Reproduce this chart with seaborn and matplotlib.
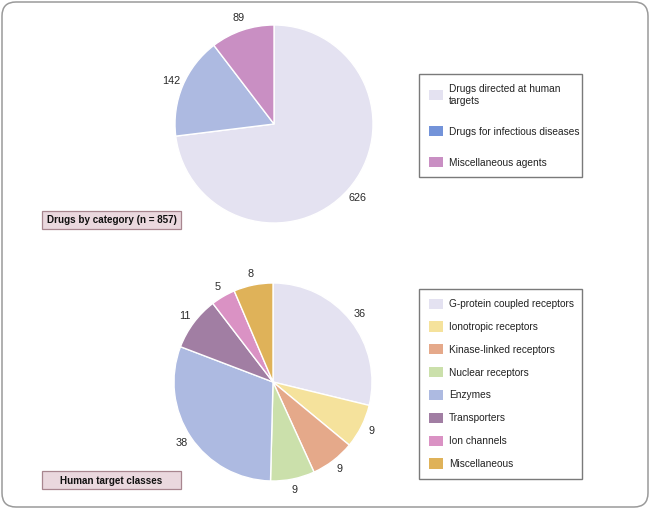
import matplotlib
matplotlib.use("Agg")
import matplotlib.pyplot as plt
import seaborn as sns
from matplotlib.patches import Patch, Rectangle, FancyBboxPatch
from matplotlib.transforms import IdentityTransform
from matplotlib import font_manager

# ---------------- data ----------------
cat_labels = ["Drugs directed at human\ntargets", "Drugs for infectious diseases", "Miscellaneous agents"]
cat_values = [626, 142, 89]
cat_colors = ["#e4e2f1", "#adbae1", "#c98fc3"]
cat_legend_colors = ["#e4e2f1", "#7393d9", "#c98fc3"]
cat_title = "Drugs by category (n = 857)"

target_labels = ["G-protein coupled receptors", "Ionotropic receptors", "Kinase-linked receptors",
                 "Nuclear receptors", "Enzymes", "Transporters", "Ion channels", "Miscellaneous"]
target_values = [36, 9, 9, 9, 38, 11, 5, 8]
target_colors = ["#e4e2f1", "#f5e29c", "#e5a98a", "#cbe0ab", "#adbae1", "#a17ea3", "#da92c4", "#dfb259"]
target_title = "Human target classes"

# ---------------- style ----------------
sns.set_theme(style="white")
names = {f.name for f in font_manager.fontManager.ttflist}
if "Liberation Sans Narrow" in names:
    FAM = ["Liberation Sans Narrow", "DejaVu Sans"]
    FS = 8.7
else:
    FAM = ["Liberation Sans", "DejaVu Sans"]
    FS = 7.3
plt.rcParams["font.family"] = FAM
NUM_FAM = ["Liberation Sans", "DejaVu Sans"]

W, H = 650, 509
fig = plt.figure(figsize=(W / 100, H / 100), dpi=100)
fig.patch.set_facecolor("white")


def px_axes(cx, cy, r, k=1.25):
    s = 2 * r * k
    return fig.add_axes([(cx - s / 2) / W, 1 - (cy + s / 2) / H, s / W, s / H])


def draw_pie(ax, values, colors, dist):
    pal = sns.color_palette(colors)
    wedges, texts = ax.pie(values, labels=[str(v) for v in values], colors=pal,
                           startangle=90, counterclock=False, labeldistance=dist,
                           wedgeprops=dict(edgecolor="white", linewidth=1.0),
                           textprops=dict(fontsize=7.8, family=NUM_FAM, color="#2a2a2a"))
    for t in texts:
        t.set_ha("center")
        t.set_va("center")
    ax.set_xlim(-1.25, 1.25)
    ax.set_ylim(-1.25, 1.25)
    ax.set_aspect("equal")
    ax.axis("off")
    return wedges


ax1 = px_axes(274, 124, 99)
draw_pie(ax1, cat_values, cat_colors, 1.13)
ax2 = px_axes(273, 382, 99)
draw_pie(ax2, target_values, target_colors, 1.11)

# ---------------- legends ----------------
common = dict(loc="upper left", mode="expand", borderaxespad=0, frameon=True, fancybox=False,
              framealpha=1, edgecolor="#7a7a7a", fontsize=FS, handlelength=1.4,
              handleheight=1.15, handletextpad=0.62, borderpad=0.95)

h1 = [Patch(facecolor=c, edgecolor="none") for c in cat_legend_colors]
leg1 = fig.legend(h1, cat_labels, bbox_to_anchor=(419 / W, 1 - 178 / H, 163 / W, 104 / H),
                  labelspacing=2.0, **common)
leg1.get_frame().set_linewidth(1.0)
for t in leg1.get_texts():
    t.set_linespacing(1.3)
    t.set_color("#222222")

h2 = [Patch(facecolor=c, edgecolor="none") for c in target_colors]
leg2 = fig.legend(h2, target_labels, bbox_to_anchor=(419 / W, 1 - 479 / H, 163 / W, 190 / H),
                  labelspacing=1.22, **common)
leg2.get_frame().set_linewidth(1.0)
for t in leg2.get_texts():
    t.set_color("#222222")

# ---------------- title boxes ----------------
for title, top in [(cat_title, 211), (target_title, 471)]:
    fig.patches.append(Rectangle((42 / W, 1 - (top + 18) / H), 139 / W, 18 / H,
                                 transform=fig.transFigure, facecolor="#ead8de",
                                 edgecolor="#a8868f", linewidth=0.9))
    fig.text(111.5 / W, 1 - (top + 9.5) / H, title, ha="center", va="center",
             fontsize=FS - 0.2, fontweight="bold", color="#111111")

# ---------------- outer rounded border ----------------
fig.patches.append(FancyBboxPatch((2, 2), W - 4, H - 4,
                                  boxstyle="round,pad=0,rounding_size=14",
                                  transform=IdentityTransform(), facecolor="none",
                                  edgecolor="#9a9a9a", linewidth=1.1))

fig.savefig("out.png", dpi=100, facecolor="white")
